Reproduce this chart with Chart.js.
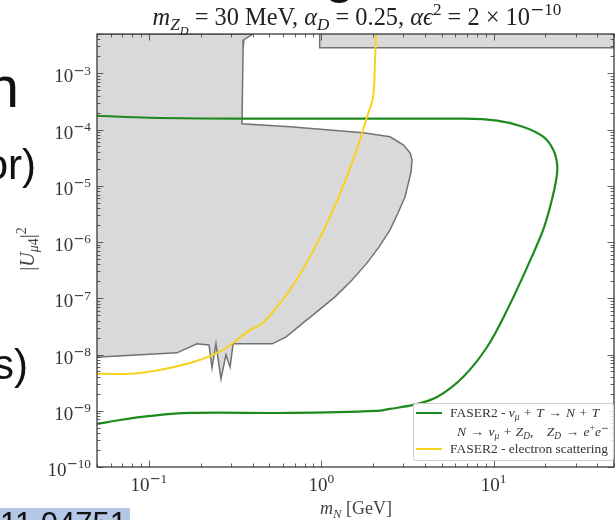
<!DOCTYPE html>
<html>
<head>
<meta charset="utf-8">
<title>FASER2 sensitivity</title>
<script src="https://cdn.jsdelivr.net/npm/chart.js"></script>
<style>
  html, body { margin: 0; padding: 0; background: #fff; overflow: hidden; }
  #wrap { position: relative; width: 616px; height: 520px; overflow: hidden; }
  #limits { position: absolute; left: 0; top: 0; }
  .slide { position: absolute; font-family: 'Liberation Sans', Arial, sans-serif; color: #111; line-height: 1; white-space: nowrap; }
</style>
</head>
<body>
<div id="wrap">
  <canvas id="limits" width="616" height="520"></canvas>
  <div class="slide" style="left:324px; top:-56px; font-size:56px;">g</div>
  <div class="slide" style="right:597px; top:58px; font-size:58px;">n</div>
  <div class="slide" style="right:580px; top:144px; font-size:42px;">or)</div>
  <div class="slide" style="right:588px; top:344px; font-size:42px;">s)</div>
  <div class="slide" style="right:486px; top:508px; font-size:31px; background:#b4c7e7; padding-right:3px;">arXiv:2011.04751</div>
</div>
<script>
// tick labels (powers of ten shown)
const xTickExps = [-1, 0, 1];
const yTickExps = [-10, -9, -8, -7, -6, -5, -4, -3];

// grey excluded region (closed outline)
const excludedX = [0.05, 0.402, 0.356, 0.352, 0.347, 0.659, 1.75, 2.51, 2.99, 3.28, 3.367, 3.322, 3.066, 2.793, 2.509, 2.166, 1.845, 1.51,
                   1.203, 0.958, 0.785, 0.626, 0.519, 0.308, 0.296, 0.280, 0.262, 0.245, 0.2325, 0.2234, 0.190, 0.1456, 0.052, 0.05];
const excludedY = [5e-3, 5e-3, 3.96e-3, 2.63e-3, 1.27e-4, 1.12e-4, 8.77e-5, 7.45e-5, 5.37e-5, 3.86e-5, 2.90e-5, 1.775e-5, 6.37e-6, 3.31e-6, 1.65e-6, 8.21e-7, 4.26e-7, 2.12e-7,
                   1.06e-7, 5.97e-8, 3.65e-8, 2.06e-8, 1.55e-8, 1.55e-8, 6.0e-9, 9.84e-9, 3.68e-9, 1.55e-8, 5.78e-9, 1.48e-8, 1.55e-8, 1.07e-8, 9.06e-9, 9.0e-9];

// grey strip along the top
const stripX = [0.98, 0.98, 50, 50];
const stripY = [5e-3, 2.85e-3, 2.85e-3, 5e-3];

// FASER2 - nu_mu + T -> N + T, N -> nu Z_D, Z_D -> e+e-
const faserNX = [0.05, 0.1016, 0.347, 6.66, 10.5, 14.8, 19.4, 22.2, 23.4, 23.1, 21.3, 19.4, 15.7, 12.0, 9.17, 6.66, 4.70, 3.41, 2.51, 2.11, 0.659, 0.173, 0.1016, 0.068, 0.05];
const faserNY = [1.76e-4, 1.62e-4, 1.56e-4, 1.56e-4, 1.44e-4, 1.12e-4, 7.45e-5, 4.38e-5, 2.37e-5, 1.28e-5, 4.23e-6, 1.65e-6, 3.62e-7, 6.22e-8, 1.36e-8, 3.99e-9, 1.76e-9, 1.27e-9, 1.08e-9, 9.92e-10, 9.14e-10, 9.14e-10, 8.08e-10, 6.86e-10, 5.82e-10];

// FASER2 - electron scattering
const faserEX = [0.05, 0.0888, 0.173, 0.269, 0.386, 0.46, 0.659, 0.861, 1.125, 1.41, 1.68, 1.845, 2.0, 2.05, 2.08];
const faserEY = [4.52e-9, 4.71e-9, 7.09e-9, 1.21e-8, 2.74e-8, 3.65e-8, 1.41e-7, 5.45e-7, 2.81e-6, 1.45e-5, 6.58e-5, 1.69e-4, 3.84e-4, 1.55e-3, 5e-3];

const SERIF = "'Liberation Serif', 'DejaVu Serif', serif";
const GREEN = '#1e8a1e';
const YELLOW = '#f6d21f';

const pts = (xs, ys) => xs.map((x, i) => ({ x, y: ys[i] }));

function logTicks(lo, hi) {
  const out = [];
  for (let e = Math.floor(Math.log10(lo)); e <= Math.ceil(Math.log10(hi)); e++) {
    for (let m = 1; m <= 9; m++) {
      const v = parseFloat((m * Math.pow(10, e)).toPrecision(6));
      if (v >= lo * (1 - 1e-9) && v <= hi * (1 + 1e-9)) out.push({ value: v, major: m === 1 });
    }
  }
  return out;
}

// mixed text runs: r roman, i italic, sub/sup, subsub
function runItems(ctx, runs, size) {
  return runs.map(([t, s]) => {
    let sz = size, dy = 0;
    if (s.startsWith('subsub')) { sz = size * 0.5; dy = size * 0.42; }
    else if (s.startsWith('sub')) { sz = size * 0.7; dy = size * 0.2; }
    else if (s.startsWith('sup')) { sz = size * 0.7; dy = -size * 0.4; }
    const fam = t === '\u2212' ? "'DejaVu Serif', serif" : SERIF;
    const font = (s.endsWith('i') ? 'italic ' : '') + sz.toFixed(2) + 'px ' + fam;
    ctx.font = font;
    return { t, font, dy, w: ctx.measureText(t).width };
  });
}
function drawRuns(ctx, runs, x, y, size, align) {
  const items = runItems(ctx, runs, size);
  const total = items.reduce((s, r) => s + r.w, 0);
  let cx = align === 'center' ? x - total / 2 : align === 'right' ? x - total : x;
  ctx.textAlign = 'left';
  ctx.textBaseline = 'alphabetic';
  items.forEach(r => { ctx.font = r.font; ctx.fillText(r.t, cx, y + r.dy); cx += r.w; });
}
function fitSize(ctx, runs, size, target) {
  const w = runItems(ctx, runs, size).reduce((s, r) => s + r.w, 0);
  return size * target / w;
}
const powRuns = e => e < 0 ? [['10', 'r'], ['\u2212', 'sup'], [String(-e), 'sup']] : [['10', 'r'], [String(e), 'sup']];

const SP = '\u2004';
const titleRuns = [['m', 'i'], ['Z', 'subi'], ['D', 'subsubi'], [' = 30 MeV, ', 'r'], ['\u03B1', 'i'], ['D', 'subi'], [' = 0.25, ', 'r'],
                   ['\u03B1\u03F5', 'i'], ['2', 'sup'], [' = 2 \u00D7 10', 'r'], ['\u2212', 'sup'], ['10', 'sup']];
const xTitleRuns = [['m', 'i'], ['N', 'subi'], [' [GeV]', 'r']];
const yTitleRuns = [['|', 'r'], ['U', 'i'], ['\u03BC', 'subi'], ['4', 'sub'], ['|', 'r'], ['2', 'sup']];
const legendRuns = [
  [['FASER2 - ', 'r'], ['\u03BD', 'i'], ['\u03BC', 'subi'], [SP + '+' + SP, 'r'], ['T', 'i'], [SP + '\u2192' + SP, 'r'], ['N', 'i'], [SP + '+' + SP, 'r'], ['T', 'i']],
  [['N', 'i'], [SP + '\u2192' + SP, 'r'], ['\u03BD', 'i'], ['\u03BC', 'subi'], [SP + '+' + SP, 'r'], ['Z', 'i'], ['D', 'subi'], [',' + SP + SP + SP, 'r'], ['Z', 'i'], ['D', 'subi'],
   [SP + '\u2192' + SP, 'r'], ['e', 'i'], ['+', 'sup'], ['e', 'i'], ['\u2212', 'sup']],
  [['FASER2 - electron scattering', 'r']]
];

const decor = {
  id: 'decor',
  beforeDraw(chart) {
    const c = chart.ctx;
    c.save(); c.fillStyle = '#fff'; c.fillRect(0, 0, chart.width, chart.height); c.restore();
  },
  afterDatasetsDraw(chart) {
    const { ctx, chartArea: a, scales: { x, y } } = chart;
    ctx.save();
    ctx.strokeStyle = '#3a3a3a';
    ctx.lineWidth = 0.8;
    ctx.beginPath();
    x.ticks.forEach(t => {
      const px = Math.round(x.getPixelForValue(t.value)) + 0.5;
      const len = t.major ? 6.5 : 3.5;
      ctx.moveTo(px, a.bottom); ctx.lineTo(px, a.bottom - len);
      ctx.moveTo(px, a.top); ctx.lineTo(px, a.top + len);
    });
    y.ticks.forEach(t => {
      const py = Math.round(y.getPixelForValue(t.value)) + 0.5;
      const len = t.major ? 6.5 : 3.5;
      ctx.moveTo(a.left, py); ctx.lineTo(a.left + len, py);
      ctx.moveTo(a.right, py); ctx.lineTo(a.right - len, py);
    });
    ctx.stroke();
    ctx.lineWidth = 1.3;
    ctx.strokeRect(a.left, a.top, a.right - a.left, a.bottom - a.top);

    // tick labels at the decades
    ctx.fillStyle = '#333';
    xTickExps.forEach(e => drawRuns(ctx, powRuns(e), x.getPixelForValue(Math.pow(10, e)), a.bottom + 24, 19, 'center'));
    yTickExps.forEach(e => drawRuns(ctx, powRuns(e), a.left - 6, y.getPixelForValue(Math.pow(10, e)) + 9, 19, 'right'));
    ctx.restore();
  },
  afterDraw(chart) {
    const { ctx, chartArea: a } = chart;
    const ds = chart.data.datasets;
    ctx.save();

    // legend
    const bx = 413, by = 403, bw = a.right - 1 - bx, bh = 57;
    ctx.fillStyle = 'rgba(255,255,255,0.85)';
    ctx.strokeStyle = '#cfcfcf';
    ctx.lineWidth = 1;
    ctx.beginPath();
    ctx.roundRect(bx + 0.5, by + 0.5, bw, bh, 2);
    ctx.fill(); ctx.stroke();
    const lsz = fitSize(ctx, legendRuns[2], 12, 158);
    ctx.lineWidth = 2;
    [[ds[2].borderColor, 413], [ds[3].borderColor, 449]].forEach(([c, ly]) => {
      ctx.strokeStyle = c;
      ctx.beginPath(); ctx.moveTo(416, ly); ctx.lineTo(442, ly); ctx.stroke();
    });
    ctx.fillStyle = '#333';
    drawRuns(ctx, legendRuns[0], 450, 417, lsz, 'left');
    drawRuns(ctx, legendRuns[1], 457, 436, lsz, 'left');
    drawRuns(ctx, legendRuns[2], 450, 453, lsz, 'left');

    // title
    ctx.fillStyle = '#222';
    const tsz = fitSize(ctx, titleRuns, 17, 409);
    drawRuns(ctx, titleRuns, 357, 25, tsz, 'center');

    // axis titles
    ctx.fillStyle = '#444';
    drawRuns(ctx, xTitleRuns, 356, 514, 18, 'center');
    ctx.translate(34, 249);
    ctx.rotate(-Math.PI / 2);
    drawRuns(ctx, yTitleRuns, 0, 0, 20, 'center');
    ctx.restore();
  }
};

new Chart(document.getElementById('limits'), {
  type: 'scatter',
  data: {
    datasets: [
      { label: 'excluded', data: pts(excludedX, excludedY), showLine: true, fill: 'shape', backgroundColor: '#d9d9d9',
        borderColor: '#727272', borderWidth: 1.5, pointRadius: 0, tension: 0, order: 4 },
      { label: 'excluded (top)', data: pts(stripX, stripY), showLine: true, fill: 'shape', backgroundColor: '#d9d9d9',
        borderColor: '#727272', borderWidth: 1.5, pointRadius: 0, tension: 0, order: 3 },
      { label: 'FASER2 - nu_mu + T -> N + T', data: pts(faserNX, faserNY), showLine: true, fill: false,
        borderColor: GREEN, borderWidth: 2.2, pointRadius: 0, tension: 0.35, order: 2 },
      { label: 'FASER2 - electron scattering', data: pts(faserEX, faserEY), showLine: true, fill: false,
        borderColor: YELLOW, borderWidth: 2, pointRadius: 0, tension: 0.35, order: 1 }
    ]
  },
  options: {
    responsive: false,
    animation: false,
    devicePixelRatio: 1,
    events: [],
    layout: { padding: { top: 34, right: 2, left: 0, bottom: 0 } },
    plugins: { legend: { display: false }, tooltip: { enabled: false } },
    scales: {
      x: {
        type: 'logarithmic', min: 0.05, max: 50,
        grid: { display: false, drawTicks: false }, border: { display: false },
        afterBuildTicks: s => { s.ticks = logTicks(0.05, 50); },
        ticks: { display: false },
        afterFit: s => { s.height = 53; s.paddingLeft = 0; s.paddingRight = 0; }
      },
      y: {
        type: 'logarithmic', min: 1e-10, max: 5e-3,
        grid: { display: false, drawTicks: false }, border: { display: false },
        afterBuildTicks: s => { s.ticks = logTicks(1e-10, 5e-3); },
        ticks: { display: false },
        afterFit: s => { s.width = 97; s.paddingTop = 0; s.paddingBottom = 0; }
      }
    }
  },
  plugins: [decor]
});
</script>
</body>
</html>
